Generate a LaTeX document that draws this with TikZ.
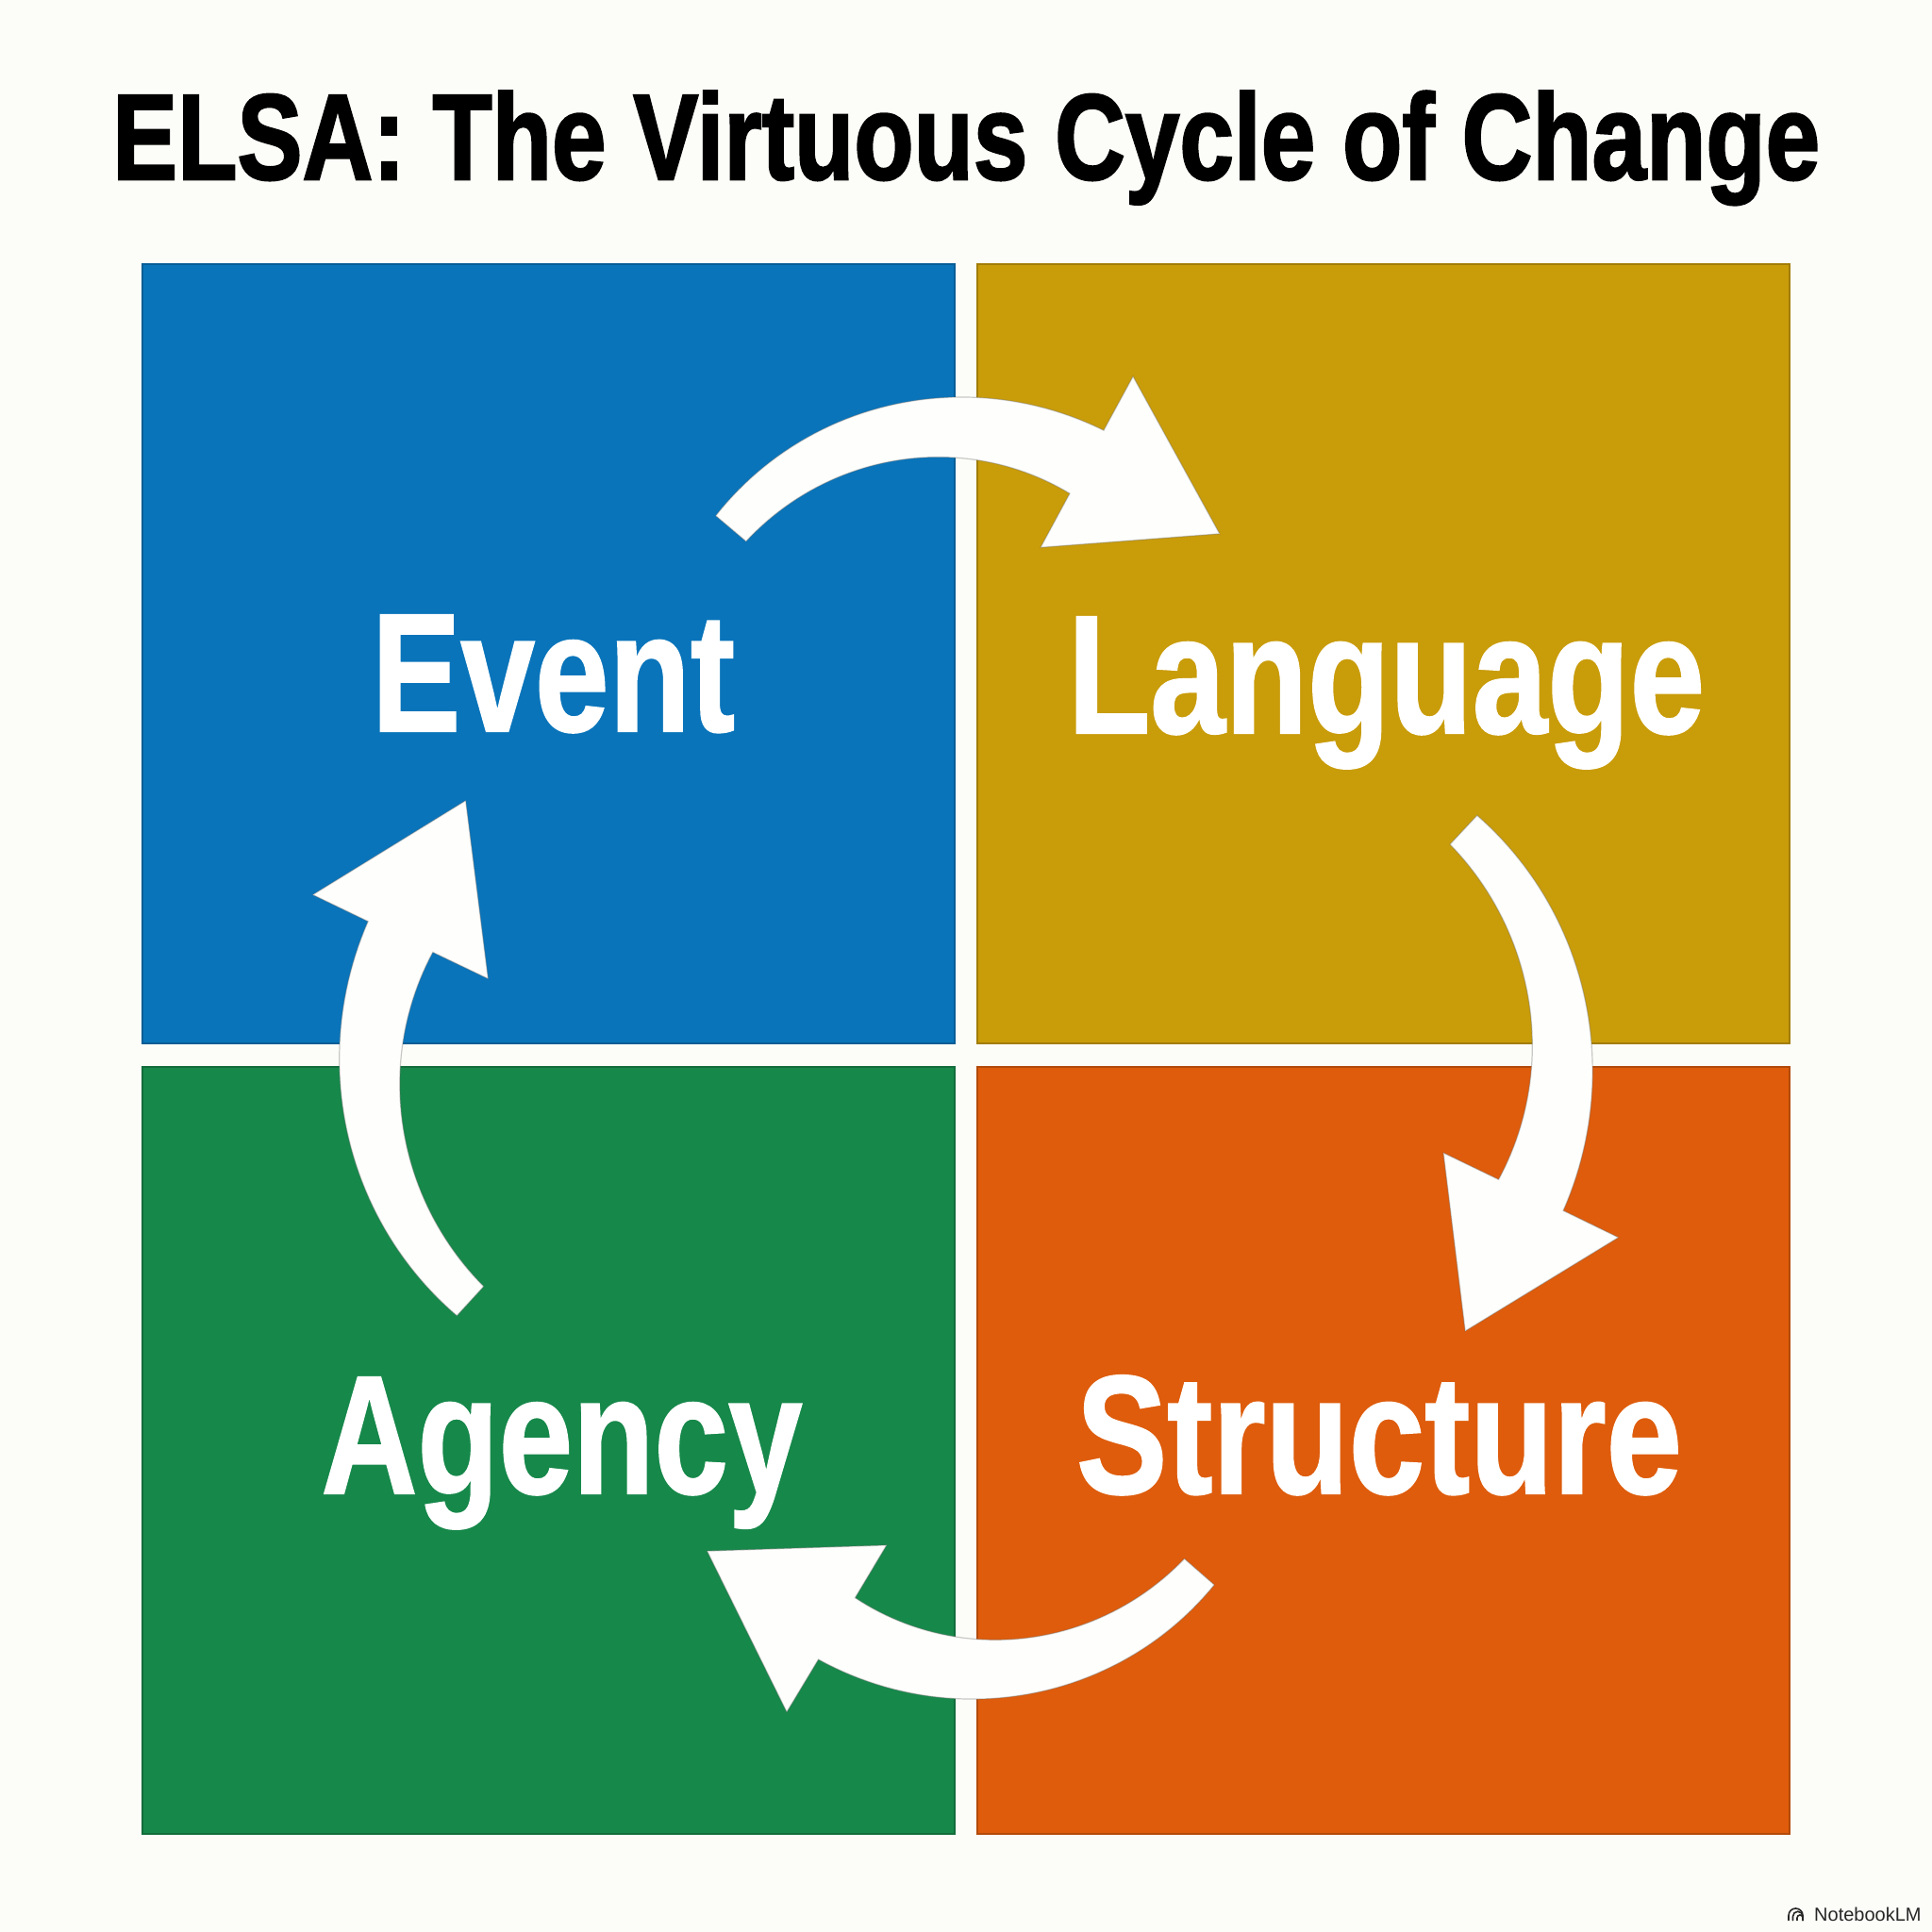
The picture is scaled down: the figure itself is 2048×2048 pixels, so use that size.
\documentclass[tikz,border=0pt]{standalone}
\usepackage{fontspec}
\usepackage{graphicx}
\setmainfont{Liberation Sans}
\newfontfamily\titlefont{Liberation Sans}[BoldFeatures={FakeBold=2}]
\newfontfamily\labelfont{Liberation Sans}[BoldFeatures={FakeBold=1.2}]
\newfontfamily\logofont{Liberation Sans}

\definecolor{bgc}{RGB}{252,252,248}
\definecolor{blueq}{RGB}{9,116,186}
\definecolor{goldq}{RGB}{201,156,10}
\definecolor{greenq}{RGB}{22,136,74}
\definecolor{orangeq}{RGB}{222,92,12}
\definecolor{arrowwhite}{RGB}{254,254,252}

% #1 cx, #2 cy, #3 radius, #4 tail angle, #5 head angle (clockwise: #5 < #4)
\newcommand{\cyclearrow}[5]{%
  \fill[cyc] plot[variable=\t, domain=0:1, samples=50]
      ({#1+(#3+21+17*\t)*cos((#4)+((#5)-(#4))*\t)}, {#2+(#3+21+17*\t)*sin((#4)+((#5)-(#4))*\t)})
    -- ({#1+(#3+103)*cos(#5)}, {#2+(#3+103)*sin(#5)})
    -- ({#1+#3*cos(#5)+160*cos((#5)-90)}, {#2+#3*sin(#5)+160*sin((#5)-90)})
    -- ({#1+(#3-103)*cos(#5)}, {#2+(#3-103)*sin(#5)})
    -- plot[variable=\t, domain=1:0, samples=50]
      ({#1+(#3-21-17*\t)*cos((#4)+((#5)-(#4))*\t)}, {#2+(#3-21-17*\t)*sin((#4)+((#5)-(#4))*\t)})
    -- cycle;}

\tikzset{
  quad/.style={rectangle, inner sep=0pt, outer sep=0pt, line width=1.5pt,
               minimum width=861pt, minimum height=826pt, anchor=south west},
  quadlabel/.style={anchor=base, inner sep=0pt, text=white},
  cyc/.style={fill=arrowwhite, draw=black!60, draw opacity=0.35, line width=1.2pt, line join=miter},
  logoline/.style={draw=black!85, line width=1.6pt, line cap=round},
}

\begin{document}
\begin{tikzpicture}[x=1pt, y=1pt]
  \fill[bgc] (0,0) rectangle (2048,2048);
  \useasboundingbox (0,0) rectangle (2048,2048);

  % title
  \node[anchor=base west, inner sep=0pt] (title) at (119,1858)
    {\resizebox{1810pt}{93.5pt}{\fontsize{128}{130}\titlefont\bfseries ELSA: The Virtuous Cycle of Change}};

  % quadrants
  \node[quad, fill=blueq, draw=blueq!80!black] (qevent) at (151,942) {};
  \node[quad, fill=goldq, draw=goldq!80!black] (qlang) at (1036,942) {};
  \node[quad, fill=greenq, draw=greenq!80!black, minimum height=813pt] (qagency) at (151,104) {};
  \node[quad, fill=orangeq, draw=orangeq!80!black, minimum height=813pt] (qstruct) at (1036,104) {};

  % cycle arrows
  \cyclearrow{1007}{1290}{305}{139.6}{61.6}
  \cyclearrow{1323}{926}{333}{46.7}{-25.8}
  \cyclearrow{1043}{582.5}{304}{-41.3}{-120.9}
  \cyclearrow{723}{912}{331}{227.3}{154.4}

  % labels
  \node[quadlabel] (levent) at (586.5,1273)
    {\resizebox{385pt}{123pt}{\fontsize{172}{180}\labelfont\bfseries Event}};
  \node[quadlabel] (llang) at (1469.5,1271)
    {\resizebox{675pt}{123pt}{\fontsize{172}{180}\labelfont\bfseries Language}};
  \node[quadlabel] (lagency) at (595.5,465)
    {\resizebox{510pt}{123pt}{\fontsize{172}{180}\labelfont\bfseries Agency}};
  \node[quadlabel] (lstruct) at (1462,465)
    {\resizebox{642pt}{125pt}{\fontsize{172}{180}\labelfont\bfseries Structure}};

  % NotebookLM mark
  \node[anchor=base west, inner sep=0pt, text=black!85] (logo) at (1923,12)
    {\fontsize{20}{22}\logofont NotebookLM};
  \draw[logoline] (1896,12.5) -- (1896,17.5) arc[start angle=180, end angle=0, radius=7.5] -- (1911,12.5);
  \draw[logoline] (1900.5,12.5) -- (1900.5,16.5) arc[start angle=180, end angle=0, radius=5.25] -- (1911,12.5);
  \draw[logoline] (1905,12.5) -- (1905,15) arc[start angle=180, end angle=0, radius=3] -- (1911,12.5);
\end{tikzpicture}
\end{document}
